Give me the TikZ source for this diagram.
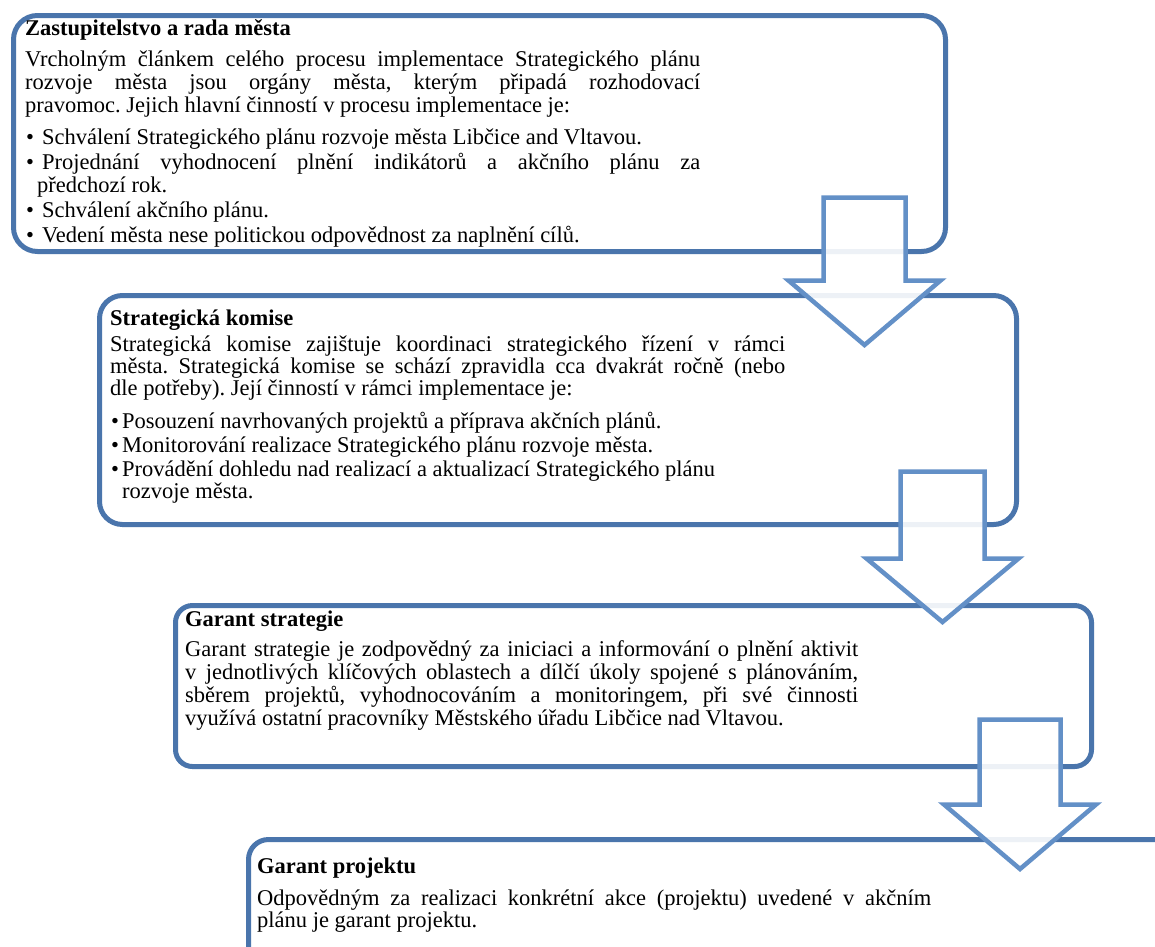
\documentclass[tikz,border=0pt]{standalone}
\usepackage{fontspec}
\setmainfont{Liberation Serif}
\definecolor{boxblue}{RGB}{74,117,172}
\definecolor{arrowblue}{RGB}{99,144,199}
\newlength\lw
\newcommand\jl[1]{\hbox to \lw{#1}}
\newcommand\rl[1]{\hbox to \lw{#1\hfil}}
\newcommand\bitem[2]{\hbox to \lw{\rlap{\kern1pt\textbullet}\kern#1\relax #2\hfil}}
\newcommand\bitemj[2]{\hbox to \lw{\rlap{\kern1pt\textbullet}\kern#1\relax #2}}
\newcommand\cont[2]{\hbox to \lw{\kern#1\relax #2\hfil}}
\newcommand\blockarrow[6]{%
  \draw[blockarrow] ({#1-#5},#2) -- ({#1+#5},#2) -- ({#1+#5},#3) -- ({#1+#6},#3)
    -- (#1,#4) -- ({#1-#6},#3) -- ({#1-#5},#3) -- cycle;}
\tikzset{
  panel/.style={draw=boxblue, line width=5pt, rounded corners=#1, inner sep=0pt, outer sep=0pt, anchor=north west},
  blockarrow/.style={draw=arrowblue, line width=4.5pt, fill=white, fill opacity=0.9, line join=miter},
  ttl/.style={anchor=base west, inner sep=0pt, font=\bfseries\fontsize{22.5}{23}\selectfont},
  bodytext/.style={anchor=base west, inner sep=0pt, font=\fontsize{22.5}{23}\selectfont\frenchspacing},
}
\begin{document}
\begin{tikzpicture}[x=1pt,y=-1pt]
\useasboundingbox (0,0) rectangle (1155,946);
\clip (0,0) rectangle (1155,946);
\fill[white] (0,0) rectangle (1155,946);
% boxes
\node[panel=24pt, minimum width=932pt, minimum height=236pt] (b1) at (13.5,15.5) {};
\node[panel=23pt, minimum width=917pt, minimum height=229pt] (b2) at (99.5,295.5) {};
\node[panel=17pt, minimum width=916pt, minimum height=161pt] (b3) at (175.5,605.5) {};
\node[panel=20pt, minimum width=950pt, minimum height=200pt] (b4) at (248.5,839.5) {};
% arrows
\blockarrow{864.5}{197.5}{280.5}{345}{41}{76}
\blockarrow{942.5}{471.5}{558.5}{622}{42}{76}
\blockarrow{1020}{719.5}{804.5}{869}{40.5}{76}
% box 1 text
\node[ttl] (t1) at (25,35) {Zastupitelstvo a rada města};
\node[bodytext] (p1) at (25,66) {\vtop{\lw=675pt\baselineskip=23pt\lineskiplimit=-100pt
\jl{Vrcholným článkem celého procesu implementace Strategického plánu}
\jl{rozvoje města jsou orgány města, kterým připadá rozhodovací}
\rl{pravomoc. Jejich hlavní činností v procesu implementace je:}
\vskip9pt
\bitem{17pt}{Schválení Strategického plánu rozvoje města Libčice and Vltavou.}
\vskip2pt
\bitemj{17pt}{Projednání vyhodnocení plnění indikátorů a akčního plánu za}
\cont{12pt}{předchozí rok.}
\vskip2.5pt
\bitem{17pt}{Schválení akčního plánu.}
\vskip2pt
\bitem{17pt}{Vedení města nese politickou odpovědnost za naplnění cílů.}
}};
% box 2 text
\node[ttl] (t2) at (110,325.5) {Strategická komise};
\node[bodytext] (p2) at (110,351.5) {\vtop{\lw=675pt\baselineskip=22pt\lineskiplimit=-100pt
\jl{Strategická komise zajištuje koordinaci strategického řízení v rámci}
\jl{města. Strategická komise se schází zpravidla cca dvakrát ročně (nebo}
\rl{dle potřeby). Její činností v rámci implementace je:}
\vskip11pt
\bitem{12pt}{Posouzení navrhovaných projektů a příprava akčních plánů.}
\vskip2pt
\bitem{12pt}{Monitorování realizace Strategického plánu rozvoje města.}
\vskip2pt
\bitem{12pt}{Provádění dohledu nad realizací a aktualizací Strategického plánu}
\cont{12pt}{rozvoje města.}
}};
% box 3 text
\node[ttl] (t3) at (185,626) {Garant strategie};
\node[bodytext] (p3) at (185,656.5) {\vtop{\lw=673pt\baselineskip=23pt\lineskiplimit=-100pt
\jl{Garant strategie je zodpovědný za iniciaci a informování o plnění aktivit}
\jl{v jednotlivých klíčových oblastech a dílčí úkoly spojené s plánováním,}
\jl{sběrem projektů, vyhodnocováním a monitoringem, při své činnosti}
\rl{využívá ostatní pracovníky Městského úřadu Libčice nad Vltavou.}
}};
% box 4 text
\node[ttl] (t4) at (257,873) {Garant projektu};
\node[bodytext] (p4) at (257,905) {\vtop{\lw=674pt\baselineskip=22pt\lineskiplimit=-100pt
\jl{Odpovědným za realizaci konkrétní akce (projektu) uvedené v akčním}
\rl{plánu je garant projektu.}
}};
\end{tikzpicture}
\end{document}
